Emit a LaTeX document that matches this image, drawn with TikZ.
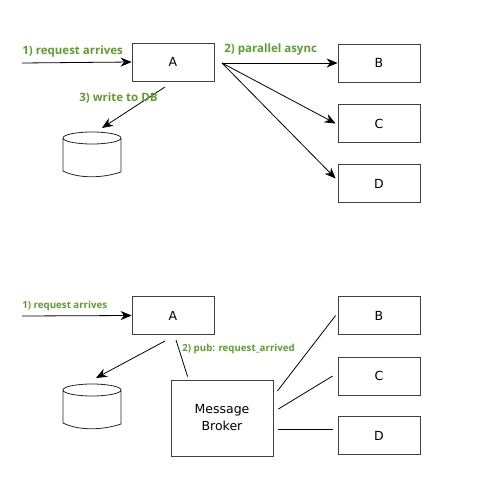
\documentclass[tikz,border=0pt]{standalone}
\usepackage{fontspec}
\setmainfont{Open Sans}
\newfontfamily\boxfont{DejaVu Sans}
\usetikzlibrary{arrows.meta}
\definecolor{labelgreen}{RGB}{92,158,44}
\begin{document}
\begin{tikzpicture}[x=1pt,y=-1pt,line width=0.8pt,
	box/.style={draw=black!75,minimum width=82pt,minimum height=38pt,inner sep=0pt,font=\boxfont\fontsize{12.5}{15}\selectfont},
	push/.style={-{Stealth[length=11pt,width=9pt,inset=3.5pt]}},
	lbl/.style={text=labelgreen,font=\bfseries\fontsize{11.5}{13}\selectfont,inner sep=0pt},
	lblsmall/.style={text=labelgreen,font=\bfseries\fontsize{9.7}{11}\selectfont,inner sep=0pt}]
\newcommand{\dbcan}[1]{\draw[shift={#1},black!85] (0,0) ellipse [x radius=29,y radius=6]
	(-29,0) -- (-29,33) .. controls (-15,40) and (8,41) .. (29,34) -- (29,0);}
\useasboundingbox (0,0) rectangle (500,500);

% top: direct calls
\node[box] (A1) at (173,62) {A};
\node[box] (B1) at (379,63) {B};
\node[box] (C1) at (379,123.5) {C};
\node[box] (D1) at (379,183.5) {D};
\coordinate (DB1) at (92,138); \dbcan{(DB1)}
\coordinate (in1) at (22,63);
\coordinate (out1) at (222,63);
\coordinate (w1) at (165,87);

\draw[push] (in1) -- (A1.west);
\draw[push] (out1) -- (B1.west);
\draw[push] (out1) -- ([xshift=-2pt]C1.west);
\draw[push] (out1) -- ([xshift=-2pt,yshift=5pt]D1.west);
\draw[push] (w1) -- ([xshift=10pt,yshift=10pt]DB1);

\node[lbl,anchor=base west] (l11) at (22,55) {1) request arrives};
\node[lbl,anchor=base west] (l12) at (224,53) {2) parallel async};
\node[lbl,anchor=base west] (l13) at (79,102) {3) write to DB};

% bottom: message broker
\node[box] (A2) at (173,315.5) {A};
\node[box] (B2) at (379,315.5) {B};
\node[box] (C2) at (379,376) {C};
\node[box] (D2) at (379,435.5) {D};
\coordinate (DB2) at (92,390); \dbcan{(DB2)}
\node[box,minimum width=102pt,minimum height=76pt,align=center,font=\boxfont\fontsize{12.5}{17}\selectfont] (MB) at (222,418) {Message\\Broker};
\coordinate (in2) at (22,316);
\coordinate (w2) at (165,341);
\coordinate (p2) at (176,340);

\draw[push] (in2) -- (A2.west);
\draw[push] (w2) -- ([xshift=4pt,yshift=12pt]DB2);
\draw (p2) -- ([xshift=17pt,yshift=3pt]MB.north west);
\draw ([xshift=4pt,yshift=27pt]MB.east) -- ([xshift=-2pt]B2.west);
\draw ([xshift=5pt,yshift=9pt]MB.east) -- ([xshift=-5pt]C2.west);
\draw ([xshift=5pt,yshift=-11pt]MB.east) -- ([xshift=-5pt,yshift=6.5pt]D2.west);

\node[lblsmall,anchor=base west] (l21) at (22,308) {1) request arrives};
\node[lblsmall,anchor=base west] (l22) at (182,351) {2) pub: request\_arrived};
\end{tikzpicture}
\end{document}
